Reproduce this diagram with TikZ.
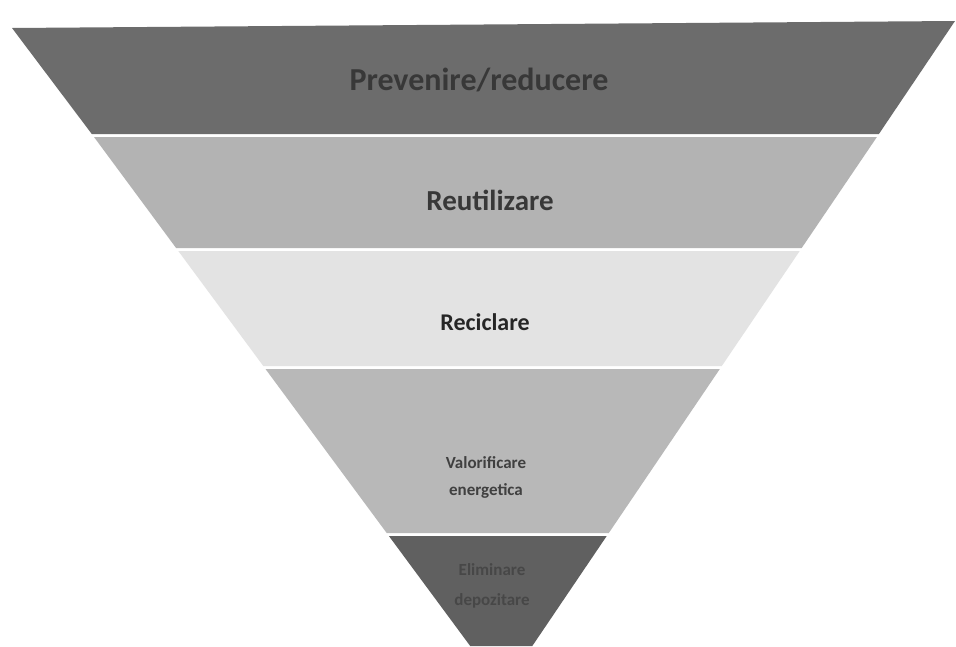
\documentclass[tikz,border=0pt]{standalone}
\usepackage{fontspec}
\setmainfont{Carlito}
\definecolor{bandA}{HTML}{6C6C6C}
\definecolor{bandB}{HTML}{B3B3B3}
\definecolor{bandC}{HTML}{E3E3E3}
\definecolor{bandD}{HTML}{B8B8B8}
\definecolor{bandE}{HTML}{606060}
\definecolor{lowtext}{HTML}{474747}
\tikzset{
  lbl/.style={font=\bfseries, align=center, inner sep=0pt},
}
\begin{document}
\begin{tikzpicture}[x=1pt,y=-1pt]
\fill[white] (0,0) rectangle (956,646);
\useasboundingbox (0,0) rectangle (956,646);
\fill[bandA] (12,28) -- (955,21) -- (878.9,134) -- (91.8,134) -- cycle;
\fill[bandB] (94.0,137) -- (876.9,137) -- (801.7,248) -- (176.1,248) -- cycle;
\fill[bandC] (178.3,251) -- (799.7,251) -- (721.8,366) -- (263.3,366) -- cycle;
\fill[bandD] (265.5,369) -- (719.8,369) -- (608.8,533) -- (386.7,533) -- cycle;
\fill[bandE] (388.9,536) -- (606.7,536) -- (532.3,646) -- (470.2,646) -- cycle;
\node[lbl, text=black!78, font=\bfseries\fontsize{32}{34}\selectfont] (t1) at (479,80) {Prevenire/reducere};
\node[lbl, text=black!78, font=\bfseries\fontsize{29}{30}\selectfont] (t2) at (490,200) {Reutilizare};
\node[lbl, text=black!85, font=\bfseries\fontsize{24}{25}\selectfont] (t3) at (485,322) {Reciclare};
\node[lbl, text=black!75, font=\bfseries\fontsize{17}{27}\selectfont] (t4) at (486,477) {Valorificare\\energetica};
\node[lbl, text=lowtext, font=\bfseries\fontsize{17}{30}\selectfont] (t5) at (492,586) {Eliminare\\depozitare};
\end{tikzpicture}
\end{document}
